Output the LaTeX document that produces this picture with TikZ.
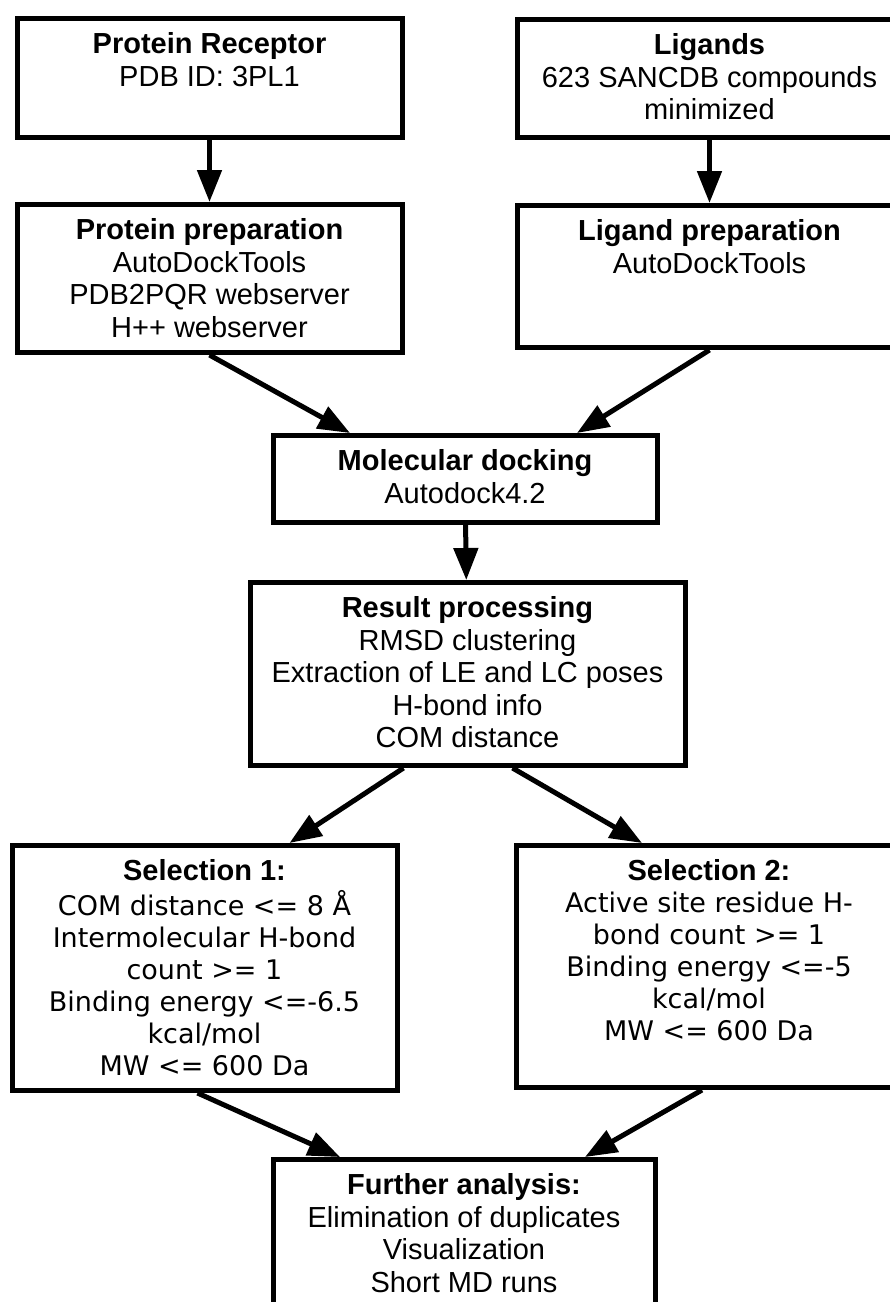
\documentclass[tikz,border=0pt]{standalone}
\usepackage{fontspec}
\setmainfont{Liberation Sans}
\newfontfamily\dejavu{DejaVu Sans}
\usetikzlibrary{arrows.meta}
\tikzset{
  stepbox/.style={draw, line width=5pt, anchor=north,
    inner xsep=6pt, inner ysep=14pt, text height=21pt,
    font=\fontsize{29}{32.5}\selectfont},
  critbox/.style={stepbox, font=\dejavu\fontsize{27}{32}\selectfont},
  flow/.style={line width=5pt, -{Triangle[length=32pt,width=24pt]}}
}
\newcommand{\heading}[1]{{\rmfamily\bfseries\fontsize{29}{32.5}\selectfont #1}}
\newcommand{\lines}[1]{\begin{tabular}[t]{@{}c@{}}#1\end{tabular}}
\begin{document}
\begin{tikzpicture}[x=1pt,y=-1pt]
  \clip (0,0) rectangle (890,1302);
  \fill[white] (0,0) rectangle (890,1302);
  % inputs
  \node[stepbox, minimum width=385pt, text depth=70pt] (rec) at (209.5,16)
    {\lines{\heading{Protein Receptor}\\PDB ID: 3PL1}};
  \node[stepbox, minimum width=385pt, text depth=69pt] (lig) at (709.5,17)
    {\lines{\heading{Ligands}\\623 SANCDB compounds\\minimized}};
  % preparation
  \node[stepbox, minimum width=385pt, text depth=99pt] (protprep) at (209.5,202)
    {\lines{\heading{Protein preparation}\\AutoDockTools\\PDB2PQR webserver\\H++ webserver}};
  \node[stepbox, minimum width=385pt, text depth=93pt] (ligprep) at (709.5,203)
    {\lines{\heading{Ligand preparation}\\AutoDockTools}};
  % docking and processing
  \node[stepbox, minimum width=384pt, text depth=38pt] (dock) at (465,433)
    {\lines{\heading{Molecular docking}\\Autodock4.2}};
  \node[stepbox, minimum width=435pt, text depth=134pt] (result) at (467.5,580)
    {\lines{\heading{Result processing}\\RMSD clustering\\Extraction of LE and LC poses\\H-bond info\\COM distance}};
  % selections
  \node[critbox, minimum width=385pt, text depth=196pt] (sel1) at (204.5,843)
    {\lines{\heading{Selection 1:}\\COM distance <= 8 Å\\Intermolecular H-bond\\count >= 1\\Binding energy <=-6.5\\kcal/mol\\MW <= 600 Da}};
  \node[critbox, minimum width=385pt, text depth=193pt] (sel2) at (709,843)
    {\lines{\heading{Selection 2:}\\Active site residue H-\\bond count >= 1\\Binding energy <=-5\\kcal/mol\\MW <= 600 Da}};
  \node[stepbox, minimum width=382pt, text depth=125pt] (further) at (464,1157)
    {\lines{\heading{Further analysis:}\\Elimination of duplicates\\Visualization\\Short MD runs}};

  \draw[flow] (rec) -- (protprep);
  \draw[flow] (lig) -- (ligprep);
  \draw[flow] (protprep.south) -- ([xshift=-115pt]dock.north);
  \draw[flow] (ligprep.south) -- ([xshift=112pt]dock.north);
  \draw[flow] (dock) -- (result);
  \draw[flow] ([xshift=-64pt]result.south) -- ([xshift=85pt]sel1.north);
  \draw[flow] ([xshift=45pt]result.south) -- ([xshift=-67pt]sel2.north);
  \draw[flow] ([xshift=-7pt]sel1.south) -- ([xshift=-124pt]further.north);
  \draw[flow] ([xshift=-7pt]sel2.south) -- ([xshift=121pt]further.north);
\end{tikzpicture}
\end{document}
